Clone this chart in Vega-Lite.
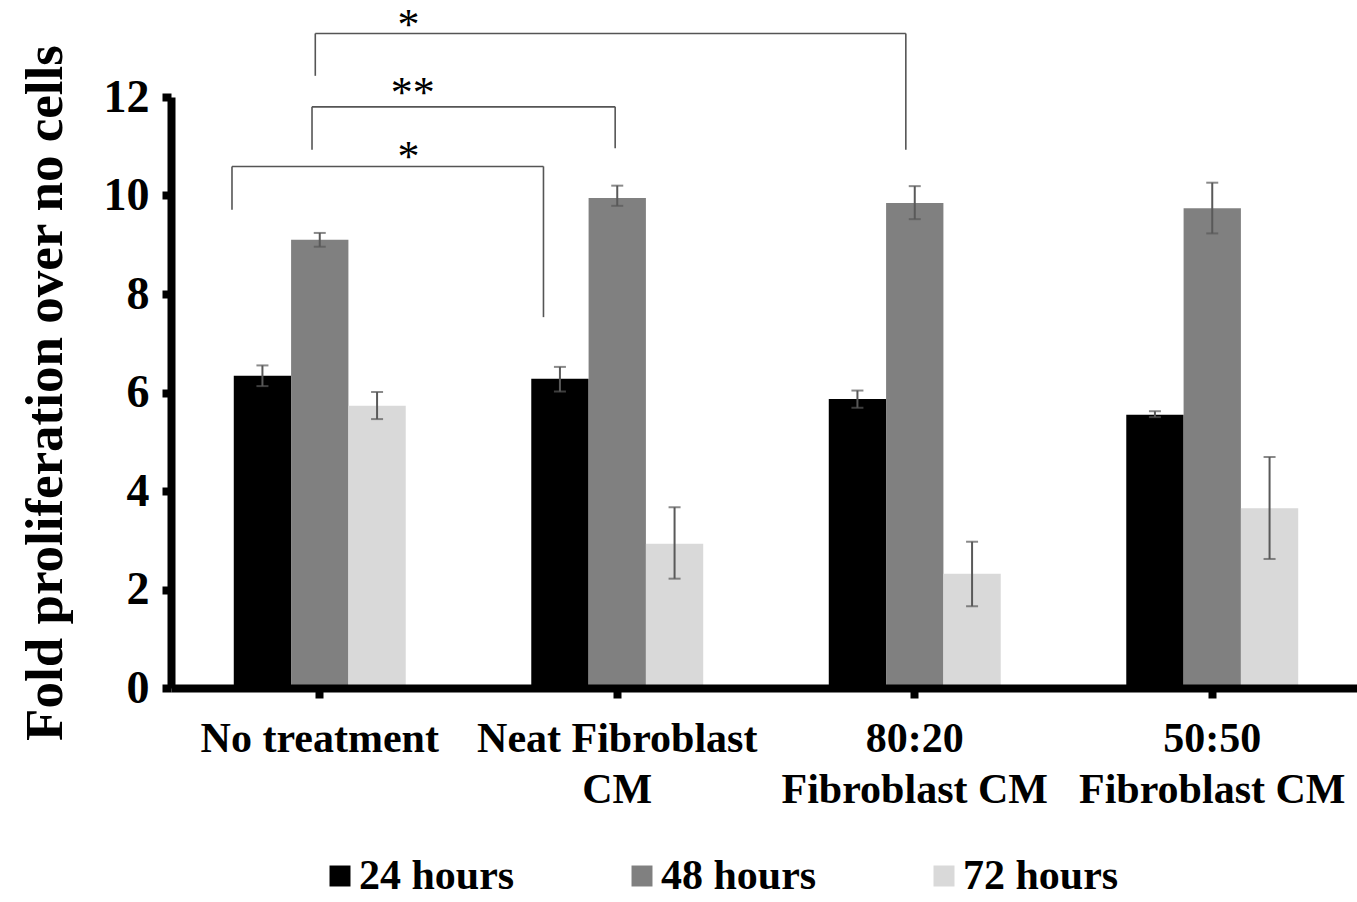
{
  "$schema": "https://vega.github.io/schema/vega-lite/v6.json",
  "width": 1190,
  "height": 591,
  "autosize": {"type": "none"},
  "padding": {"left": 171, "top": 97, "right": 0, "bottom": 214},
  "background": "white",
  "config": {"view": {"stroke": null}, "font": "Liberation Serif"},
  "datasets": {
    "bars": [
      {"group": "No treatment", "series": "24 hours", "value": 6.34, "lo": 6.13, "hi": 6.55},
      {"group": "No treatment", "series": "48 hours", "value": 9.10, "lo": 8.96, "hi": 9.24},
      {"group": "No treatment", "series": "72 hours", "value": 5.73, "lo": 5.46, "hi": 6.01},
      {"group": "Neat Fibroblast CM", "series": "24 hours", "value": 6.28, "lo": 6.02, "hi": 6.52},
      {"group": "Neat Fibroblast CM", "series": "48 hours", "value": 9.95, "lo": 9.79, "hi": 10.20},
      {"group": "Neat Fibroblast CM", "series": "72 hours", "value": 2.93, "lo": 2.22, "hi": 3.67},
      {"group": "80:20 Fibroblast CM", "series": "24 hours", "value": 5.87, "lo": 5.69, "hi": 6.04},
      {"group": "80:20 Fibroblast CM", "series": "48 hours", "value": 9.85, "lo": 9.52, "hi": 10.19},
      {"group": "80:20 Fibroblast CM", "series": "72 hours", "value": 2.32, "lo": 1.66, "hi": 2.97},
      {"group": "50:50 Fibroblast CM", "series": "24 hours", "value": 5.55, "lo": 5.50, "hi": 5.62},
      {"group": "50:50 Fibroblast CM", "series": "48 hours", "value": 9.74, "lo": 9.23, "hi": 10.26},
      {"group": "50:50 Fibroblast CM", "series": "72 hours", "value": 3.65, "lo": 2.62, "hi": 4.69}
    ],
    "brackets": [
      {"bracket": 1, "x1": -0.295, "x2": -0.295, "y1": 9.71, "y2": 10.59},
      {"bracket": 1, "x1": -0.295, "x2": 0.752, "y1": 10.59, "y2": 10.59},
      {"bracket": 1, "x1": 0.752, "x2": 0.752, "y1": 10.59, "y2": 7.53},
      {"bracket": 2, "x1": -0.026, "x2": -0.026, "y1": 10.93, "y2": 11.80},
      {"bracket": 2, "x1": -0.026, "x2": 0.993, "y1": 11.80, "y2": 11.80},
      {"bracket": 2, "x1": 0.993, "x2": 0.993, "y1": 11.80, "y2": 10.96},
      {"bracket": 3, "x1": -0.015, "x2": -0.015, "y1": 12.43, "y2": 13.29},
      {"bracket": 3, "x1": -0.015, "x2": 1.97, "y1": 13.29, "y2": 13.29},
      {"bracket": 3, "x1": 1.97, "x2": 1.97, "y1": 13.29, "y2": 10.93}
    ],
    "stars": [
      {"x": 0.298, "y": 10.89, "label": "*"},
      {"x": 0.313, "y": 12.18, "label": "**"},
      {"x": 0.298, "y": 13.56, "label": "*"}
    ]
  },
  "layer": [
    {
      "data": {"name": "bars"},
      "encoding": {
        "x": {
          "field": "group", "type": "nominal", "sort": null,
          "scale": {"paddingInner": 0.422, "paddingOuter": 0.211},
          "axis": {
            "title": null,
            "labelExpr": "datum.label == 'Neat Fibroblast CM' ? ['Neat Fibroblast', 'CM'] : datum.label == '80:20 Fibroblast CM' ? ['80:20', 'Fibroblast CM'] : datum.label == '50:50 Fibroblast CM' ? ['50:50', 'Fibroblast CM'] : datum.label",
            "labelAngle": 0, "labelFont": "Liberation Serif", "labelFontWeight": "bold",
            "labelFontSize": 42, "labelColor": "black", "labelLineHeight": 51,
            "labelPadding": 20, "labelLimit": 0, "labelOverlap": false, "labelBound": false,
            "domainColor": "black", "domainWidth": 8, "tickColor": "black", "tickWidth": 8,
            "tickSize": 10, "zindex": 1
          }
        },
        "xOffset": {"field": "series", "type": "nominal", "sort": null}
      },
      "layer": [
        {
          "mark": {"type": "bar"},
          "encoding": {
            "y": {
              "field": "value", "type": "quantitative",
              "scale": {"domain": [0, 12], "nice": false},
              "axis": {
                "title": "Fold proliferation over no cells",
                "values": [0, 2, 4, 6, 8, 10, 12], "grid": false,
                "labelFont": "Liberation Serif", "labelFontWeight": "bold", "labelFontSize": 46,
                "labelColor": "black", "labelPadding": 13,
                "domainColor": "black", "domainWidth": 8, "tickColor": "black", "tickWidth": 8, "tickSize": 9,
                "titleFont": "Liberation Serif", "titleFontWeight": "bold", "titleFontSize": 53,
                "titleColor": "black", "titleX": -126, "titleY": 295.5, "titleBaseline": "middle",
                "titleAngle": -90, "titleAlign": "center", "zindex": 1
              }
            },
            "color": {
              "field": "series", "type": "nominal",
              "scale": {"domain": ["24 hours", "48 hours", "72 hours"], "range": ["#000000", "#808080", "#d9d9d9"]},
              "legend": {
                "title": null, "orient": "none", "legendX": 148, "legendY": 758,
                "direction": "horizontal", "symbolType": "square", "symbolSize": 440,
                "symbolStrokeWidth": 0, "labelFont": "Liberation Serif", "labelFontWeight": "bold",
                "labelFontSize": 42, "labelColor": "black", "labelOffset": -2,
                "columnPadding": 106, "padding": 0, "labelLimit": 0
              }
            }
          }
        },
        {
          "mark": {"type": "rule", "color": "#595959", "strokeWidth": 2},
          "encoding": {
            "y": {"field": "lo", "type": "quantitative", "title": "Fold proliferation over no cells"},
            "y2": {"field": "hi"}
          }
        },
        {
          "mark": {"type": "tick", "color": "#595959", "thickness": 2, "size": 12},
          "encoding": {"y": {"field": "lo", "type": "quantitative", "title": "Fold proliferation over no cells"}}
        },
        {
          "mark": {"type": "tick", "color": "#595959", "thickness": 2, "size": 12},
          "encoding": {"y": {"field": "hi", "type": "quantitative", "title": "Fold proliferation over no cells"}}
        }
      ]
    },
    {
      "data": {"name": "brackets"},
      "mark": {"type": "rule", "color": "#555555", "strokeWidth": 1.6},
      "encoding": {
        "x": {"field": "x1", "type": "quantitative", "scale": {"domain": [-0.5, 3.5], "nice": false, "zero": false}, "axis": null},
        "x2": {"field": "x2"},
        "y": {"field": "y1", "type": "quantitative", "title": "Fold proliferation over no cells"},
        "y2": {"field": "y2"}
      }
    },
    {
      "data": {"name": "stars"},
      "mark": {"type": "text", "font": "Liberation Serif", "fontSize": 44, "baseline": "alphabetic", "dy": 19, "color": "black"},
      "encoding": {
        "x": {"field": "x", "type": "quantitative", "scale": {"domain": [-0.5, 3.5], "nice": false, "zero": false}, "axis": null},
        "y": {"field": "y", "type": "quantitative", "title": "Fold proliferation over no cells"},
        "text": {"field": "label"}
      }
    }
  ],
  "resolve": {"scale": {"x": "independent"}}
}
